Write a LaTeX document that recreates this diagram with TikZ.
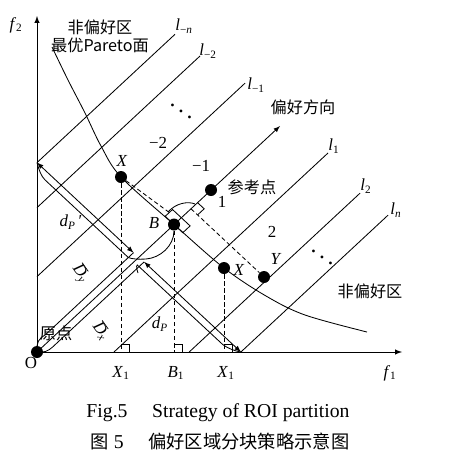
\documentclass[tikz,border=0pt]{standalone}
\usepackage{fontspec}
\setmainfont{Liberation Serif}
\newfontfamily\cjk{Noto Sans CJK SC}
\usetikzlibrary{positioning,calc}

\begin{document}
\begin{tikzpicture}[
    x=0.025cm, y=-0.025cm,
    every node/.style={font=\fontsize{12}{14}\selectfont, inner sep=0pt},
    thinline/.style={line width=0.6pt},
    dashline/.style={line width=0.6pt, dash pattern=on 3pt off 2pt},
    axis/.style={->, >=latex, line width=0.7pt},
    arrow/.style={->, >=latex, line width=0.6pt},
    dimarrow/.style={<->, >=latex, line width=0.6pt},
    dot/.style={circle, fill=black, inner sep=0pt, minimum size=0.3cm},
    zh/.style={font=\cjk\fontsize{11.5}{13}\selectfont},
    caption/.style={font=\fontsize{14}{17}\selectfont}
]
    \useasboundingbox (0,0) rectangle (456,467);

    % Points
    \node[dot] (O) at (37,352) {};
    \node[dot] (Xu) at (121,177) {};
    \node[dot] (B) at (174,224.5) {};
    \node[dot] (Ref) at (211,190) {};
    \node[dot] (Xl) at (224,268) {};
    \node[dot] (Y) at (264,277) {};
    \coordinate (A) at (280,126);
    \coordinate (F) at (191,208.8);

    % Axes
    \coordinate (f1end) at (402,352);
    \coordinate (f2end) at (37,16);
    \draw[axis] (O.center) -- (f1end);
    \draw[axis] (O.center) -- (f2end);
    \node (f1) at (390,373) {\textit{f}\textsubscript{1}};
    \node (f2) at (16,25) {\textit{f}\textsubscript{2}};
    \node (Olab) at (31,363) {O};

    % Parallel lines l
    \coordinate (lmnS) at (37,162.6);  \coordinate (lmnE) at (175,34.3);
    \coordinate (lm2S) at (37,207.6);  \coordinate (lm2E) at (200,56);
    \coordinate (lm1S) at (37,276.6);  \coordinate (lm1E) at (245,83.2);
    \coordinate (l1S) at (114,352);    \coordinate (l1E) at (328,153);
    \coordinate (l2S) at (189.2,352);  \coordinate (l2E) at (360,193.2);
    \coordinate (lnS) at (240.9,352);  \coordinate (lnE) at (388,215.2);
    \draw[thinline] (lmnS) -- (lmnE);
    \draw[thinline] (lm2S) -- (lm2E);
    \draw[thinline] (lm1S) -- (lm1E);
    \draw[thinline] (l1S) -- (l1E);
    \draw[thinline] (l2S) -- (l2E);
    \draw[thinline] (lnS) -- (lnE);
    \node (lmn) at (184,26) {\textit{l}\textsubscript{−\textit{n}}};
    \node (lm2) at (208,51) {\textit{l}\textsubscript{−2}};
    \node (lm1) at (256,85) {\textit{l}\textsubscript{−1}};
    \node (l1) at (334,146) {\textit{l}\textsubscript{1}};
    \node (l2) at (366,186) {\textit{l}\textsubscript{2}};
    \node (ln) at (396,210) {\textit{l}\textsubscript{\textit{n}}};

    % Preference direction
    \draw[arrow] (O.center) -- (A);
    \node[zh] (pref) at (303,107) {偏好方向};
    \node[zh] (reflab) at (252,187) {参考点};

    % Pareto front
    \draw[thinline] plot[smooth, tension=0.55] coordinates {(52,47) (68,80) (85,113) (101,146) (121,177) (174,224.5) (224,268) (266,296) (305,315) (367,332)};
    \node[zh, align=center] (pareto) at (100,36) {非偏好区\\最优Pareto面};
    \node[zh] (nonpref) at (370,291) {非偏好区};

    % Dimension bands
    \coordinate (DyS) at (45.2,334.9);
    \coordinate (DyE) at (133.5,252.7);
    \coordinate (DyC) at (128.3,257.5);
    \coordinate (DxS) at (52.3,347.3);
    \coordinate (DxE) at (144.1,261.9);
    \coordinate (DxC) at (139,266.6);
    \draw[thinline] (O.center) .. controls (36,343) and (39,338) .. (DyS) -- (DyE);
    \draw[thinline] (O.center) .. controls (44,353) and (48,351) .. (DxS) -- (DxE);
    \draw[dimarrow] (lmnS) -- (DyE);
    \draw[dimarrow] (DxE) -- (lnS);
    \draw[thinline] (lmnS) .. controls (39,170) and (41,176) .. (45.1,180) -- (DyC);
    \draw[thinline] (DxC) -- (222.7,344.5) .. controls (229,349) and (235,351) .. (lnS);
    \draw[thinline] (B) .. controls (174,246) and (160,258) .. (146,259) .. controls (138,259.5) and (132,259) .. (DyC);
    \draw[thinline] (DxC) .. controls (136,262) and (136,268) .. (138,273);
    \draw[thinline] (168,212) .. controls (176,203) and (188,201) .. (195,204);
    \node[rotate=-55, inner xsep=1pt] (Dy) at (80,274) {\textit{D}\textsubscript{\textit{y}}};
    \node[rotate=-55, inner xsep=1pt] (Dx) at (101,331) {\textit{D}\textsubscript{\textit{x}}};
    \draw[line width=0.5pt] ($(Dy.north west)!0.12!(Dy.north east)$) -- ($(Dy.north west)!0.62!(Dy.north east)$);
    \draw[line width=0.5pt] ($(Dx.north west)!0.12!(Dx.north east)$) -- ($(Dx.north west)!0.62!(Dx.north east)$);
    \node (dPp) at (71,222) {\textit{d}\textsubscript{\textit{P}}\,′};
    \node (dP) at (160,324) {\textit{d}\textsubscript{\textit{P}}};

    % Projections
    \draw[dashline] (Xu) -- (170,213);
    \draw[dashline] (F) -- (Y);
    \draw[thinline] (165.2,216.3) -- (172.5,209.5) -- (190.1,225.9) -- (182.8,232.7) -- cycle;
    \draw[thinline] (197.6,202.7) -- (204.2,208.8) -- (197.6,214.9);
    \coordinate (X1a) at (121,352);
    \coordinate (B1a) at (174,352);
    \coordinate (X1b) at (224,352);
    \draw[dashline] (Xu) -- (X1a);
    \draw[dashline] (B) -- (B1a);
    \draw[dashline] (Xl) -- (X1b);
    \draw[thinline] (121,344) -- (129,344) -- (129,352);
    \draw[thinline] (174,344) -- (182,344) -- (182,352);
    \draw[thinline] (224,344) -- (232,344) -- (232,352);
    \node (X1alab) at (121,373) {\textit{X}\textsubscript{1}};
    \node (B1alab) at (176,373) {\textit{B}\textsubscript{1}};
    \node (X1blab) at (226,373) {\textit{X}\textsubscript{1}};

    % Point labels
    \node (Xulab) at (122,161) {\textit{X}};
    \node (Blab) at (154,223) {\textit{B}};
    \node (Xllab) at (239,270) {\textit{X}};
    \node (Ylab) at (276,259) {\textit{Y}};
    \node[zh] (orig) at (56,333) {原点};

    % Regions
    \node (rm2) at (158,143) {−2};
    \node (rm1) at (201,166) {−1};
    \node (r1) at (222,202) {1};
    \node (r2) at (272,232) {2};
    \node[scale=1.4] (dotsa) at (181,105) {$\ddots$};
    \node[scale=1.4] (dotsb) at (322,251) {$\ddots$};

    % Caption
    \node[caption] (capen) at (218,413) {Fig.5\quad\ Strategy of ROI partition};
    \node[caption] (capzh) at (220,441) {{\cjk\fontsize{13}{16}\selectfont 图} 5\quad\ {\cjk\fontsize{13}{16}\selectfont 偏好区域分块策略示意图}};
\end{tikzpicture}
\end{document}
